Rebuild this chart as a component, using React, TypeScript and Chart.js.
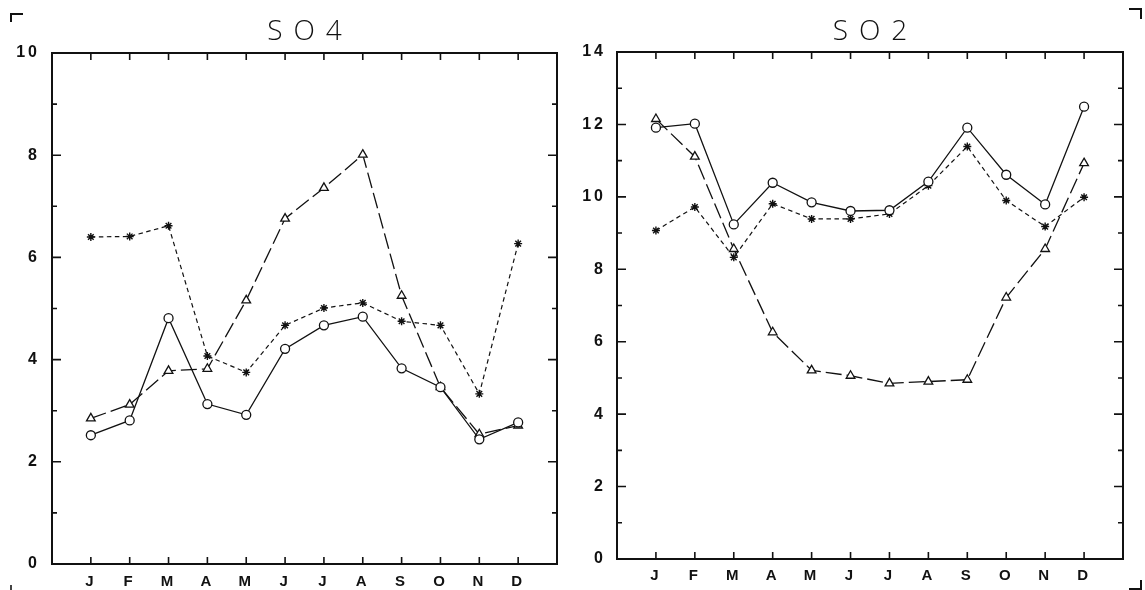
import React, { useEffect, useRef } from 'react';
import { Chart, registerables } from 'chart.js';

Chart.register(...registerables);

// ---------- data ----------
const MONTHS = ['J', 'F', 'M', 'A', 'M', 'J', 'J', 'A', 'S', 'O', 'N', 'D'];

const SO4_CIRCLE = [2.52, 2.81, 4.81, 3.13, 2.92, 4.21, 4.67, 4.84, 3.83, 3.46, 2.44, 2.77];
const SO4_TRIANGLE = [2.85, 3.12, 3.78, 3.82, 5.16, 6.76, 7.36, 8.01, 5.25, 3.46, 2.54, 2.71];
const SO4_STAR = [6.40, 6.41, 6.62, 4.07, 3.75, 4.67, 5.01, 5.11, 4.75, 4.67, 3.33, 6.27];

const SO2_CIRCLE = [11.91, 12.02, 9.24, 10.39, 9.85, 9.61, 9.63, 10.42, 11.91, 10.61, 9.79, 12.49];
const SO2_TRIANGLE = [12.15, 11.11, 8.56, 6.26, 5.21, 5.06, 4.85, 4.90, 4.95, 7.22, 8.56, 10.93];
const SO2_STAR = [9.07, 9.72, 8.33, 9.81, 9.39, 9.39, 9.53, 10.31, 11.39, 9.90, 9.18, 9.99];

const SO4_Y_MAX = 10;
const SO2_Y_MAX = 14;
const Y_LABEL_STEP = 2;

const INK = '#111';
const TICK_FONT = '"Liberation Sans", Arial, sans-serif';

const toPoints = (arr: number[]) => arr.map((v, i) => ({ x: i + 1, y: v }));

const framePlugin = {
  id: 'frame',
  beforeDraw(chart: any) {
    (chart.ctx as any).letterSpacing = '3px';
  },
  afterDraw(chart: any, _args: any, opts: any) {
    const { ctx, chartArea: a, scales } = chart;
    const xs = scales.x;
    const ys = scales.y;
    ctx.save();
    (ctx as any).letterSpacing = '0px';
    ctx.strokeStyle = INK;
    ctx.lineWidth = 2;
    ctx.strokeRect(a.left, a.top, a.right - a.left, a.bottom - a.top);
    ctx.lineWidth = 1.6;
    ctx.beginPath();
    for (let i = 1; i <= MONTHS.length; i++) {
      const px = xs.getPixelForValue(i);
      ctx.moveTo(px, a.top);
      ctx.lineTo(px, a.top + 7);
      ctx.moveTo(px, a.bottom);
      ctx.lineTo(px, a.bottom - 7);
    }
    for (let v = 1; v < ys.max; v++) {
      const py = ys.getPixelForValue(v);
      const len = v % Y_LABEL_STEP === 0 ? 9 : 5;
      ctx.moveTo(a.left, py);
      ctx.lineTo(a.left + len, py);
      ctx.moveTo(a.right, py);
      ctx.lineTo(a.right - len, py);
    }
    ctx.stroke();

    // title
    const sp = 11;
    ctx.fillStyle = INK;
    ctx.font = '300 28px "Open Sans", "DejaVu Sans", sans-serif';
    (ctx as any).letterSpacing = sp + 'px';
    ctx.textAlign = 'left';
    ctx.textBaseline = 'alphabetic';
    const w = ctx.measureText(opts.text).width - sp;
    ctx.fillText(opts.text, (a.left + a.right) / 2 - w / 2, opts.titleY);
    ctx.restore();
  },
};

type PanelProps = {
  title: string;
  yMax: number;
  circle: number[];
  triangle: number[];
  star: number[];
  left: number;
  width: number;
  yAxisW: number;
  xAxisH: number;
  padTop: number;
  padRight: number;
  yPad: number;
  xPad: number;
};

function Panel(p: PanelProps) {
  const ref = useRef<HTMLCanvasElement | null>(null);
  useEffect(() => {
    if (!ref.current) return;
    const chart = new Chart(ref.current, {
      type: 'line',
      data: {
        datasets: [
          {
            data: toPoints(p.circle),
            borderColor: INK,
            borderWidth: 1.3,
            pointStyle: 'circle',
            pointRadius: 4.5,
            pointBorderWidth: 1.3,
            pointBackgroundColor: '#fff',
            pointBorderColor: INK,
            tension: 0,
          },
          {
            data: toPoints(p.triangle),
            borderColor: INK,
            borderWidth: 1.3,
            borderDash: [16, 5],
            pointStyle: 'triangle',
            pointRadius: 5,
            pointBorderWidth: 1.3,
            pointBackgroundColor: '#fff',
            pointBorderColor: INK,
            tension: 0,
          },
          {
            data: toPoints(p.star),
            borderColor: INK,
            borderWidth: 1.2,
            borderDash: [4.5, 3.5],
            pointStyle: 'star',
            pointRadius: 4,
            pointBorderWidth: 1.4,
            pointBorderColor: INK,
            tension: 0,
          },
        ],
      },
      options: {
        responsive: false,
        animation: false,
        devicePixelRatio: 1,
        layout: {
          autoPadding: false,
          padding: { top: p.padTop, right: p.padRight, left: 0, bottom: 0 },
        },
        plugins: {
          legend: { display: false },
          tooltip: { enabled: false },
          title: { display: false },
          frame: { text: p.title, titleY: 40 },
        } as any,
        scales: {
          x: {
            type: 'linear',
            min: 0,
            max: MONTHS.length + 1,
            afterFit: (s: any) => {
              s.height = p.xAxisH;
            },
            grid: { display: false, drawTicks: false },
            border: { display: false },
            ticks: {
              stepSize: 1,
              autoSkip: false,
              maxRotation: 0,
              padding: p.xPad,
              color: INK,
              font: { family: TICK_FONT, size: 15, weight: 'bold' },
              callback: (v: any) => MONTHS[Number(v) - 1] ?? '',
            },
          },
          y: {
            type: 'linear',
            min: 0,
            max: p.yMax,
            afterFit: (s: any) => {
              s.width = p.yAxisW;
            },
            grid: { display: false, drawTicks: false },
            border: { display: false },
            ticks: {
              stepSize: Y_LABEL_STEP,
              padding: p.yPad,
              color: INK,
              font: { family: TICK_FONT, size: 16, weight: 'bold' },
            },
          },
        },
      },
      plugins: [framePlugin as any],
    });
    return () => chart.destroy();
  }, []);
  return (
    <canvas
      ref={ref}
      width={p.width}
      height={590}
      style={{ position: 'absolute', left: p.left, top: 0, width: p.width, height: 590 }}
    />
  );
}

export default function App() {
  const mark: React.CSSProperties = { position: 'absolute', boxSizing: 'border-box', borderColor: INK, borderStyle: 'solid', borderWidth: 0 };
  return (
    <div style={{ position: 'absolute', left: 0, top: 0, width: 1145, height: 590, background: '#fff', overflow: 'hidden' }}>
      <Panel
        title="SO4"
        yMax={SO4_Y_MAX}
        circle={SO4_CIRCLE}
        triangle={SO4_TRIANGLE}
        star={SO4_STAR}
        left={0}
        width={572}
        yAxisW={52}
        xAxisH={26}
        padTop={53}
        padRight={15}
        yPad={12}
        xPad={9}
      />
      <Panel
        title="SO2"
        yMax={SO2_Y_MAX}
        circle={SO2_CIRCLE}
        triangle={SO2_TRIANGLE}
        star={SO2_STAR}
        left={572}
        width={573}
        yAxisW={45}
        xAxisH={31}
        padTop={52}
        padRight={22}
        yPad={11}
        xPad={8}
      />
      <div style={{ ...mark, left: 10, top: 13, width: 13, height: 9, borderTopWidth: 2, borderLeftWidth: 2 }} />
      <div style={{ ...mark, left: 1129, top: 8, width: 13, height: 11, borderTopWidth: 2, borderRightWidth: 2 }} />
      <div style={{ ...mark, left: 1129, top: 580, width: 13, height: 10, borderBottomWidth: 2, borderRightWidth: 2 }} />
      <div style={{ position: 'absolute', left: 10, top: 585, width: 1.5, height: 5, background: '#444' }} />
    </div>
  );
}
